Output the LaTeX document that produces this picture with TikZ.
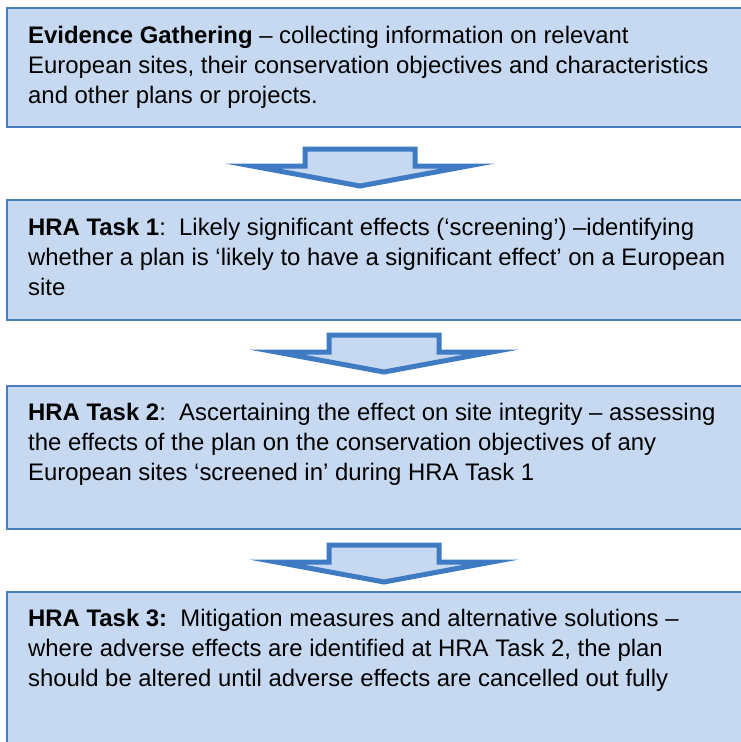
\documentclass[tikz,border=0pt]{standalone}
\usepackage{fontspec}
\setmainfont{Liberation Sans}

\definecolor{boxfill}{HTML}{C6D9F1}
\definecolor{boxline}{HTML}{4A7EBB}
\definecolor{arrowline}{HTML}{3F7BC3}

\tikzset{
  stagebox/.style={fill=boxfill, draw=boxline, line width=1.6pt},
  stagetext/.style={anchor=base west, inner sep=0pt, font=\fontsize{23.9}{30}\selectfont},
  downarrow/.style={fill=boxfill, draw=arrowline, line width=5pt, line join=miter, miter limit=30},
  blockarrow/.pic={
    \draw[downarrow] (-55,0) -- (55,0) -- (55,17) -- (108,17) -- (0,37)
      -- (-108,17) -- (-55,17) -- cycle;
  }
}

\newcommand\stagepar[1]{\parbox[t]{720pt}{\raggedright #1}}

\begin{document}
\begin{tikzpicture}[x=1pt, y=-1pt]
  \useasboundingbox (0,0) rectangle (741,742);

  % the four stage panels (they run past the right and bottom edges)
  \path[stagebox] (7,8)   rectangle (790,127);
  \path[stagebox] (7,200) rectangle (790,320);
  \path[stagebox] (7,386) rectangle (790,529);
  \path[stagebox] (7,592) rectangle (790,800);

  % block arrows between the stages
  \pic at (360,149) {blockarrow};
  \pic at (384,335) {blockarrow};
  \pic at (384,545) {blockarrow};

  % stage texts
  \node[stagetext] (gather) at (28,43) {\stagepar{\textbf{Evidence Gathering} – collecting information on relevant\\
    European sites, their conservation objectives and characteristics\\
    and other plans or projects.}};

  \node[stagetext] (task1) at (28,235) {\stagepar{\textbf{HRA Task 1}:\ \ Likely significant effects (‘screening’) –identifying\\
    whether a plan is ‘likely to have a significant effect’ on a European\\
    site}};

  \node[stagetext] (task2) at (28,420) {\stagepar{\textbf{HRA Task 2}:\ \ Ascertaining the effect on site integrity – assessing\\
    the effects of the plan on the conservation objectives of any\\
    European sites ‘screened in’ during HRA Task 1}};

  \node[stagetext] (task3) at (28,626) {\stagepar{\textbf{HRA Task 3:}\ \ Mitigation measures and alternative solutions –\\
    where adverse effects are identified at HRA Task 2, the plan\\
    should be altered until adverse effects are cancelled out fully}};
\end{tikzpicture}
\end{document}
